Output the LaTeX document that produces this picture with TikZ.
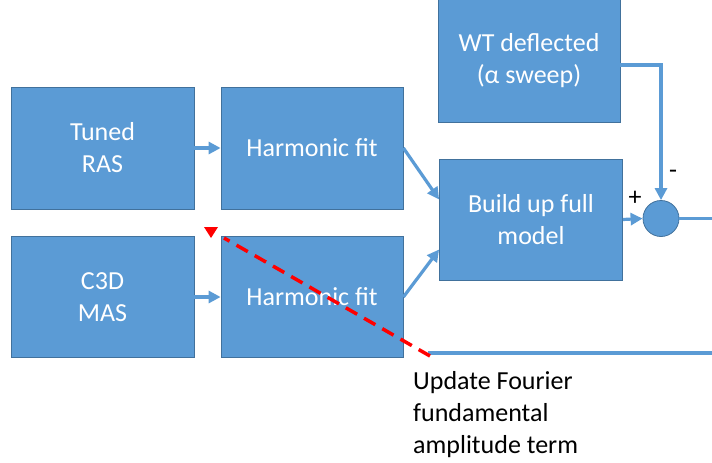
\documentclass[tikz,border=0pt]{standalone}
\usepackage{fontspec}
\setmainfont{Carlito}
\usetikzlibrary{arrows.meta,calc}
\definecolor{boxfill}{HTML}{5B9BD5}
\definecolor{boxline}{HTML}{41719C}
\begin{document}
\begin{tikzpicture}[x=1pt,y=-1pt,
  blk/.style={draw=boxline,line width=0.8pt,fill=boxfill,text=white,align=center,
    inner sep=0pt,font=\fontsize{26}{32}\selectfont},
  conn/.style={draw=boxfill,line width=3.2pt,-{Triangle[length=12pt,width=12pt]}},
  plain/.style={draw=boxfill,line width=3.2pt},
  lbl/.style={font=\fontsize{26}{28}\selectfont,text=black,inner sep=0pt}]
\useasboundingbox (0,0) rectangle (712,463);
\node[blk,minimum width=183pt,minimum height=122pt] (ras) at (102.5,148) {Tuned\\RAS};
\node[blk,minimum width=182pt,minimum height=122pt] (hf1) at (312,148) {Harmonic fit};
\node[blk,minimum width=183pt,minimum height=121pt] (mas) at (102.5,297) {C3D\\MAS};
\node[blk,minimum width=182pt,minimum height=121pt] (hf2) at (312,297) {Harmonic fit};
\node[blk,minimum width=182pt,minimum height=123pt] (wt) at (529,60.5) {WT deflected\\(α sweep)};
\node[blk,minimum width=183pt,minimum height=121pt] (bu) at (531,219.5) {Build up full\\model};
\node[draw=boxline,line width=0.8pt,fill=boxfill,circle,minimum size=36pt,inner sep=0pt] (sum) at (661,218.5) {};
\coordinate (out1) at (712,218.5);
\coordinate (fb0) at (428,353);
\coordinate (fb1) at (712,353);
\draw[conn] (ras.east) -- (hf1.west);
\draw[conn] (mas.east) -- (hf2.west);
\draw[conn] (hf1.east) -- ($(bu.west)+(0,-20)$);
\draw[conn] (hf2.east) -- ($(bu.west)+(0,30)$);
\draw[conn] (bu.east) -- (sum.west);
\draw[conn] ($(wt.east)+(0,4.5)$) -| (sum.north);
\draw[plain] (sum.east) -- (out1);
\draw[plain] (fb0) -- (fb1);
\coordinate (rd0) at (430,356);
\coordinate (rd1) at (224,238);
\draw[red,line width=3.5pt,dash pattern=on 13pt off 8pt] (rd0) -- (rd1);
\fill[red] (204,227) -- (218,227) -- (211,238) -- cycle;
\node[lbl,anchor=center] (plus) at (635,198) {+};
\node[lbl,anchor=center] (minus) at (673,174) {-};
\node[anchor=north west,align=left,inner sep=0pt,font=\fontsize{26}{32}\selectfont] (upd) at (413,371)
  {Update Fourier\\fundamental\\amplitude term};
\end{tikzpicture}
\end{document}
